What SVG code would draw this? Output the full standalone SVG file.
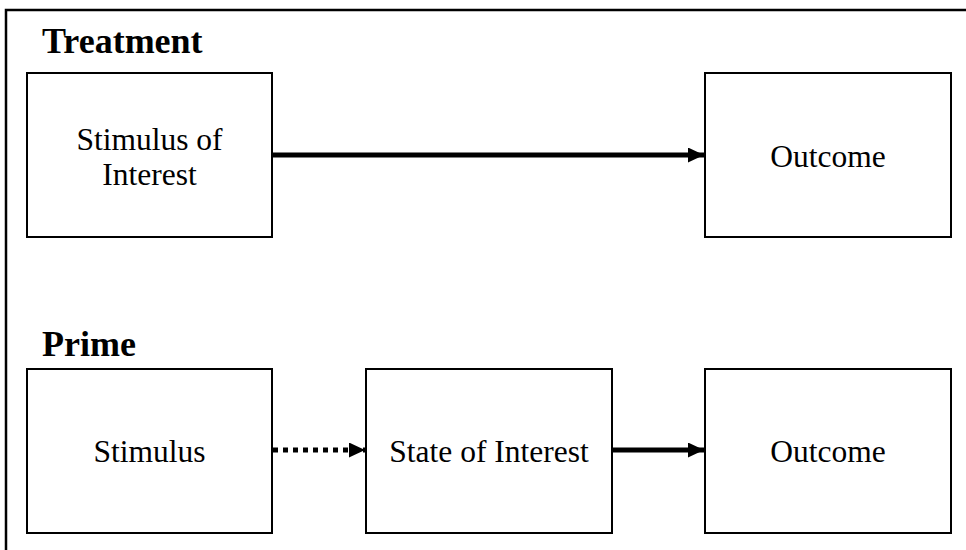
<svg xmlns="http://www.w3.org/2000/svg" width="966" height="550" viewBox="0 0 966 550">
<style>
.box{fill:#fff;stroke:#000;stroke-width:2}
.t{font-family:"Liberation Serif","Times New Roman",serif;font-size:31.5px;fill:#000;text-anchor:middle}
.h{font-family:"Liberation Serif","Times New Roman",serif;font-size:36px;font-weight:bold;fill:#000}
.c{stroke:#000;stroke-width:5;fill:none}
</style>
<defs>
<marker id="ah" viewBox="0 0 16 15" refX="16" refY="7.5" markerWidth="16" markerHeight="15" markerUnits="userSpaceOnUse" orient="auto">
<path d="M0,0 L16,7.5 L0,15 z" fill="#000"/>
</marker>
</defs>
<rect width="966" height="550" fill="#fff"/>
<path d="M6,550 V10 H966" fill="none" stroke="#000" stroke-width="2.5"/>
<text class="h" x="42" y="53">Treatment</text>
<text class="h" x="42" y="356">Prime</text>
<g id="stimulus-of-interest">
<rect class="box" x="27" y="73" width="245" height="164"/>
<text class="t" x="149.5" y="150">Stimulus of</text>
<text class="t" x="149.5" y="185">Interest</text>
</g>
<g id="outcome-1">
<rect class="box" x="705" y="73" width="246" height="164"/>
<text class="t" x="828" y="167">Outcome</text>
</g>
<g id="stimulus">
<rect class="box" x="27" y="369" width="245" height="164"/>
<text class="t" x="149.5" y="462">Stimulus</text>
</g>
<g id="state-of-interest">
<rect class="box" x="366" y="369" width="246" height="164"/>
<text class="t" x="489" y="462">State of Interest</text>
</g>
<g id="outcome-2">
<rect class="box" x="705" y="369" width="246" height="164"/>
<text class="t" x="828" y="462">Outcome</text>
</g>
<g id="connectors">
<line class="c" x1="273" y1="155" x2="704" y2="155" marker-end="url(#ah)"/>
<line class="c" x1="273" y1="450" x2="365" y2="450" stroke-dasharray="5 5" marker-end="url(#ah)"/>
<line class="c" x1="613" y1="450" x2="704" y2="450" marker-end="url(#ah)"/>
</g>
</svg>
